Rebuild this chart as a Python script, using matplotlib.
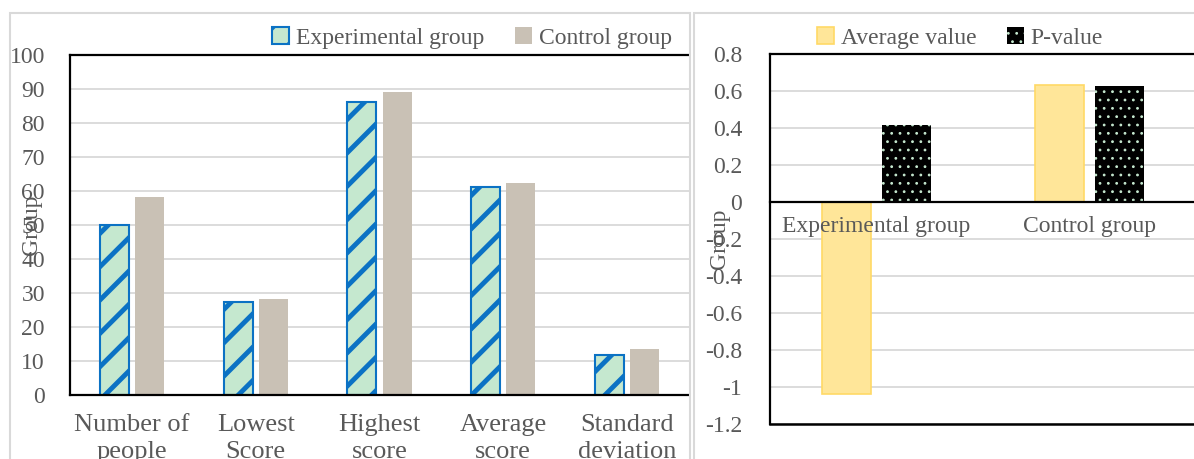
import numpy as np
import matplotlib.pyplot as plt
from matplotlib.patches import Rectangle

plt.rcParams['font.family'] = ['Liberation Serif', 'DejaVu Serif']
plt.rcParams['hatch.linewidth'] = 3.5

TXT = '#595959'
GRID = '#d9d9d9'
FS = 17

# left chart data
score_cats = ['Number of\npeople', 'Lowest\nScore', 'Highest\nscore',
              'Average\nscore', 'Standard\ndeviation']
experimental = [50, 27.3, 86.2, 61.2, 11.8]
control = [58.2, 28.2, 89.1, 62.4, 13.4]

# right chart data
group_cats = ['Experimental group', 'Control group']
average_value = [-1.04, 0.634]
p_value = [0.416, 0.629]

fig = plt.figure(figsize=(11.94, 4.59), dpi=100)

# panel borders (Excel chart areas)
fig.patches.append(Rectangle((10 / 1194, -0.1), 680 / 1194, 1.1 - 13 / 459,
                             transform=fig.transFigure, fill=False,
                             edgecolor=GRID, lw=1.5))
fig.patches.append(Rectangle((694 / 1194, -0.1), 0.6, 1.1 - 13 / 459,
                             transform=fig.transFigure, fill=False,
                             edgecolor=GRID, lw=1.5))

ax1 = fig.add_axes([70 / 1194, 1 - 395 / 459, 619 / 1194, 340 / 459])
ax2 = fig.add_axes([770 / 1194, 1 - 424 / 459, 426 / 1194, 370 / 459])


def style(ax):
    ax.set_facecolor('none')
    for s in ['left', 'top', 'bottom']:
        ax.spines[s].set_color('black')
        ax.spines[s].set_linewidth(1.6)
    ax.spines['right'].set_visible(False)
    ax.tick_params(length=0, labelsize=FS, labelcolor=TXT)
    ax.yaxis.grid(True, color=GRID, lw=1.3)
    ax.set_axisbelow(True)


# ---- left chart ----
x = np.arange(len(score_cats))
w = 0.234
gap = 0.05
ax1.bar(x - (w + gap) / 2, experimental, w, facecolor='#c5e8cf',
        edgecolor='#0b72c4', hatch='/', lw=1.5, label='Experimental group')
ax1.bar(x + (w + gap) / 2, control, w, color='#c9c1b5', label='Control group')
ax1.set_xlim(-0.5, len(score_cats) - 0.5)
ax1.set_ylim(0, 100)
ax1.set_yticks(np.arange(0, 101, 10))
ax1.set_xticks(x)
ax1.set_xticklabels(score_cats, fontsize=19, linespacing=1.25)
style(ax1)
ax1.tick_params(axis='y', pad=18)
ax1.tick_params(axis='x', pad=14, labelsize=19)
ax1.set_ylabel('Group', fontsize=FS, color=TXT)
ax1.yaxis.set_label_coords(-0.045, 0.5)
ax1.legend(loc='center', bbox_to_anchor=(472 / 1194, 1 - 38 / 459),
           bbox_transform=fig.transFigure, ncol=2, frameon=False,
           fontsize=FS, labelcolor=TXT, handlelength=0.7, handleheight=0.7,
           handletextpad=0.3, columnspacing=1.3, borderaxespad=0)

# ---- right chart ----
x2 = np.arange(len(group_cats))
w2 = 0.23
gap2 = 0.056
ax2.bar(x2 - (w2 + gap2) / 2, average_value, w2, facecolor='#ffe699',
        edgecolor='#ffd966', lw=1.2, label='Average value')
pbars = ax2.bar(x2 + (w2 + gap2) / 2, p_value, w2, facecolor='black',
                edgecolor='#c5e8cf', hatch='..', lw=0, label='P-value')
for b in pbars:
    if hasattr(b, 'set_hatch_linewidth'):
        b.set_hatch_linewidth(0.8)
ax2.set_xlim(-0.5, len(group_cats) - 0.5)
ax2.set_ylim(-1.2, 0.8)
yt = np.round(np.arange(-1.2, 0.81, 0.2), 1)
ax2.set_yticks(yt)
ax2.set_yticklabels([f'{v:g}' if v != 0 else '0' for v in yt])
ax2.set_xticks(x2)
ax2.set_xticklabels(group_cats)
style(ax2)
ax2.xaxis.set_zorder(3)
ax2.spines['bottom'].set_position(('data', 0))
ax2.axhline(-1.2, color='black', lw=1.8, clip_on=False)
ax2.tick_params(axis='y', pad=20)
ax2.tick_params(axis='x', pad=10)
ax2.set_ylabel('Group', fontsize=FS, color=TXT)
ax2.yaxis.set_label_coords(-0.095, 0.5)
leg2 = ax2.legend(loc='center', bbox_to_anchor=(960 / 1194, 1 - 38 / 459),
                  bbox_transform=fig.transFigure, ncol=2, frameon=False,
                  fontsize=FS, labelcolor=TXT, handlelength=0.7,
                  handleheight=0.7, handletextpad=0.3, columnspacing=1.3,
                  borderaxespad=0)
for h in leg2.legend_handles:
    if hasattr(h, 'set_hatch_linewidth'):
        h.set_hatch_linewidth(0.8)

fig.savefig('out.png', dpi=100)
